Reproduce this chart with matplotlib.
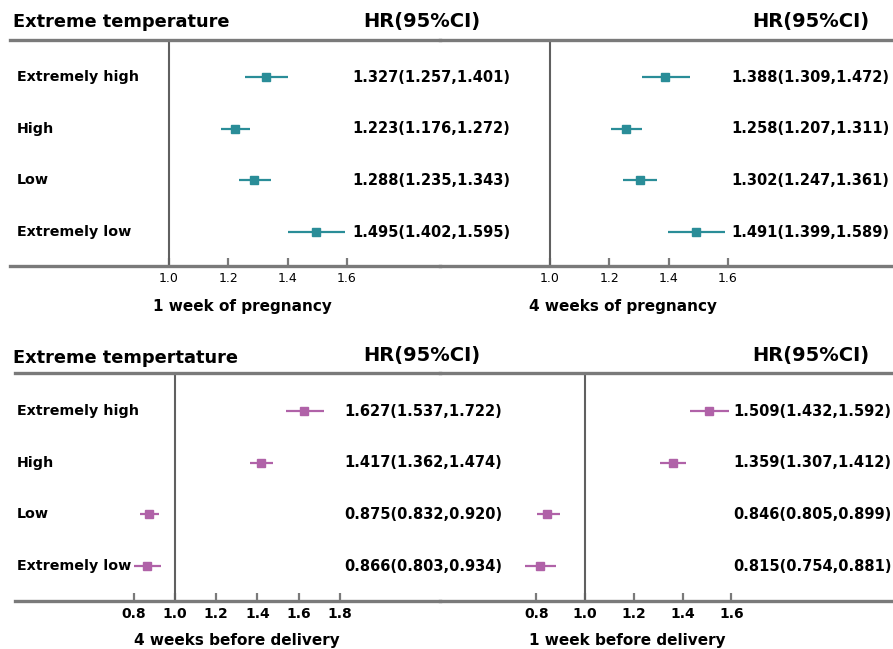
import matplotlib
matplotlib.use('Agg')
import matplotlib.pyplot as plt
import matplotlib.transforms as mtransforms
import numpy as np

plt.rcParams.update({
    "font.family": "DejaVu Sans",
    "font.weight": "bold",
})

W, H = 893, 649

categories = ['Extremely high', 'High', 'Low', 'Extremely low']

# 1 week of pregnancy
hr_1wp = [1.327, 1.223, 1.288, 1.495]
lo_1wp = [1.257, 1.176, 1.235, 1.402]
hi_1wp = [1.401, 1.272, 1.343, 1.595]
# 4 weeks of pregnancy
hr_4wp = [1.388, 1.258, 1.302, 1.491]
lo_4wp = [1.309, 1.207, 1.247, 1.399]
hi_4wp = [1.472, 1.311, 1.361, 1.589]
# 4 weeks before delivery
hr_4wd = [1.627, 1.417, 0.875, 0.866]
lo_4wd = [1.537, 1.362, 0.832, 0.803]
hi_4wd = [1.722, 1.474, 0.920, 0.934]
# 1 week before delivery
hr_1wd = [1.509, 1.359, 0.846, 0.815]
lo_1wd = [1.432, 1.307, 0.805, 0.754]
hi_1wd = [1.592, 1.412, 0.899, 0.881]

ticks_top = [1.0, 1.2, 1.4, 1.6]
ticks_4wd = [0.8, 1.0, 1.2, 1.4, 1.6, 1.8]
ticks_1wd = [0.8, 1.0, 1.2, 1.4, 1.6]

teal = '#2a8d98'
pink = '#b062a8'
grey = '#7a7a7a'

fig = plt.figure(figsize=(W / 100, H / 100), dpi=100)


def panel(hr, lo, hi, ticks, xlabel, color, x0, x1, y0, y1, vx, scale,
          row0, row_gap, val_x, head_cx, lab_cx, show_names, tick_bold):
    ax = fig.add_axes([x0 / W, 1 - y1 / H, (x1 - x0) / W, (y1 - y0) / H])
    ax.patch.set_visible(False)
    ax.set_xlim(1.0 - (vx - x0) / scale, 1.0 + (x1 - vx) / scale)
    ax.set_ylim(3 + (y1 - row0 - 3 * row_gap) / row_gap, -(row0 - y0) / row_gap)
    for s in ['left', 'right']:
        ax.spines[s].set_visible(False)
    for s in ['top', 'bottom']:
        ax.spines[s].set_color(grey)
        ax.spines[s].set_linewidth(2.4)
    ax.axvline(1.0, color='#606060', lw=1.5)
    hr = np.array(hr); lo = np.array(lo); hi = np.array(hi)
    y = np.arange(len(hr))
    ax.errorbar(hr, y, xerr=[hr - lo, hi - hr], fmt='s', color=color, ms=6,
                elinewidth=1.6, capsize=0, clip_on=False)
    ax.set_yticks([])
    ax.set_xticks(ticks)
    ax.set_xticklabels([f'{t:.1f}' for t in ticks],
                       fontsize=10 if tick_bold else 9,
                       fontweight='bold' if tick_bold else 'normal')
    ax.tick_params(axis='x', direction='in', length=6, width=1.6, color=grey, pad=4)
    fx = lambda px: (px - x0) / (x1 - x0)
    tr = mtransforms.blended_transform_factory(ax.transAxes, ax.transData)
    for i in range(len(hr)):
        if show_names:
            ax.text(fx(17), i, categories[i], transform=tr, ha='left', va='center',
                    fontsize=10.3, fontweight='bold', clip_on=False)
        ax.text(fx(val_x), i, f'{hr[i]:.3f}({lo[i]:.3f},{hi[i]:.3f})', transform=tr,
                ha='left', va='center', fontsize=10.5, fontweight='bold', clip_on=False)
    ax.text(fx(head_cx), 1 + 18 / (y1 - y0), 'HR(95%CI)', transform=ax.transAxes,
            ha='center', va='center', fontsize=14, fontweight='bold')
    ax.set_xlabel(xlabel, fontsize=11, fontweight='bold')
    ax.xaxis.set_label_coords(fx(lab_cx), -(39 if tick_bold else 40) / (y1 - y0))
    ax.xaxis.label.set_va('center')
    return ax


panel(hr_1wp, lo_1wp, hi_1wp, ticks_top, '1 week of pregnancy', teal,
      10, 440, 40, 266, 169, 296.5, 77, 51.7, 352, 422, 242, True, False)
panel(hr_4wp, lo_4wp, hi_4wp, ticks_top, '4 weeks of pregnancy', teal,
      440, 893, 40, 266, 550, 296.5, 77, 51.7, 731, 811, 623, False, False)
panel(hr_4wd, lo_4wd, hi_4wd, ticks_4wd, '4 weeks before delivery', pink,
      15, 440, 373, 601, 175, 206, 411, 51.7, 344, 422, 237, True, True)
panel(hr_1wd, lo_1wd, hi_1wd, ticks_1wd, '1 week before delivery', pink,
      440, 893, 373, 601, 585, 244, 411, 51.7, 733, 811, 627, False, True)

fig.text(13 / W, 1 - 22 / H, 'Extreme temperature', ha='left', va='center',
         fontsize=12.8, fontweight='bold')
fig.text(13 / W, 1 - 358 / H, 'Extreme tempertature', ha='left', va='center',
         fontsize=12.8, fontweight='bold')

fig.savefig('out.png', dpi=100)
